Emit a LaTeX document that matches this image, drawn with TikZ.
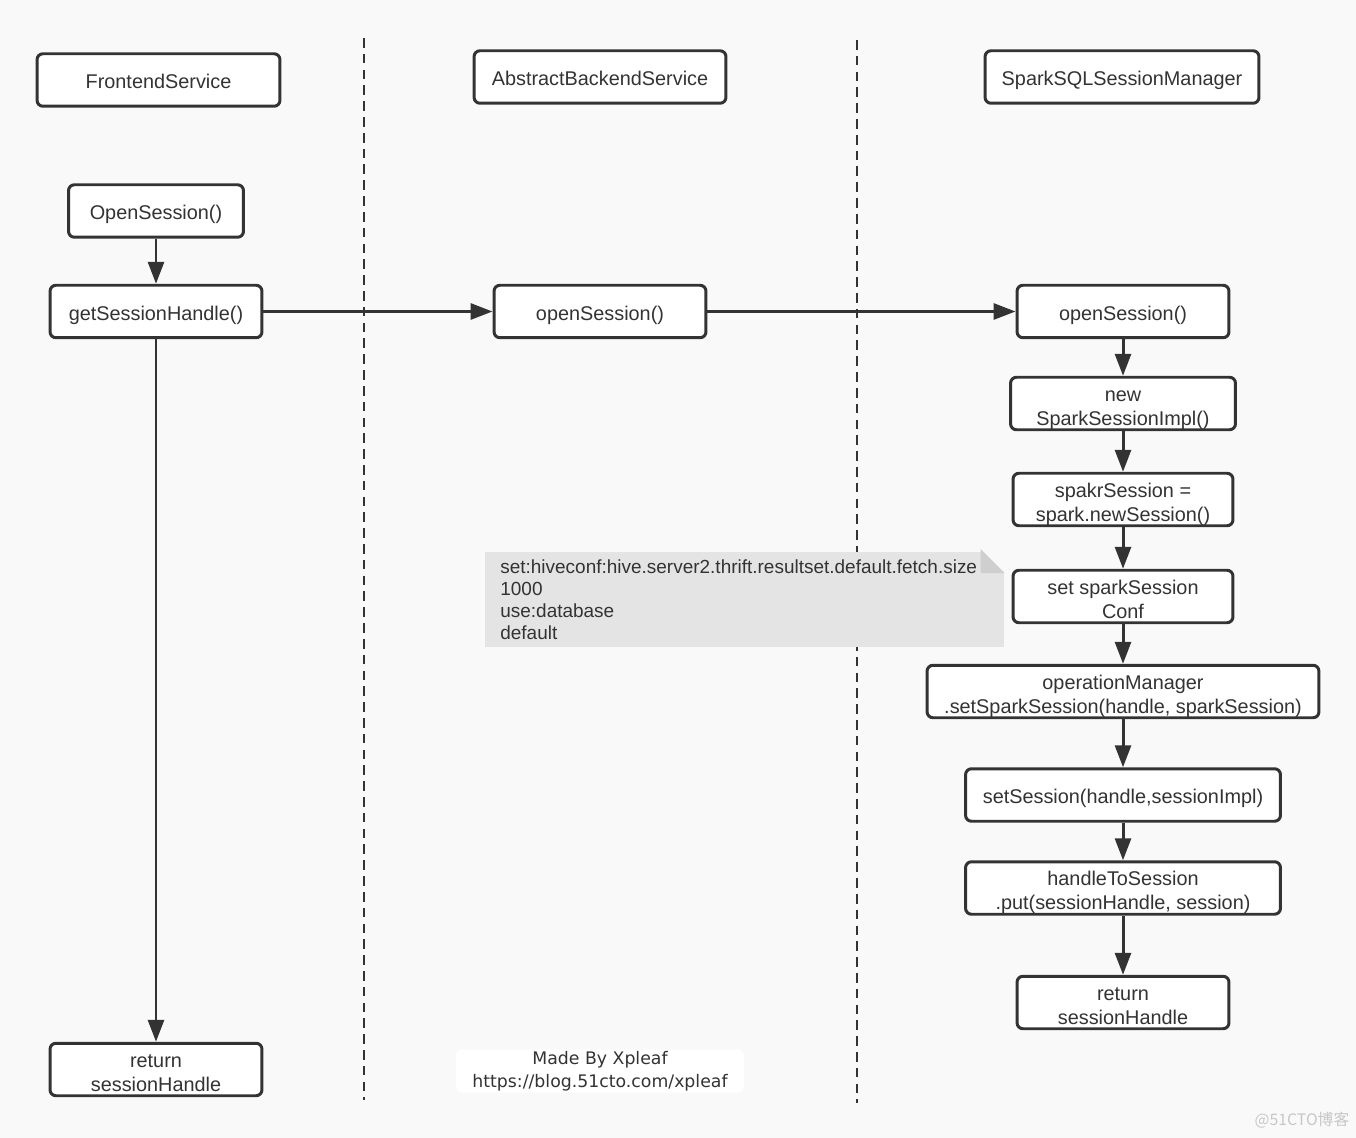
\documentclass[tikz,border=0pt]{standalone}
\usepackage{fontspec}
\setmainfont{Liberation Sans}
\newfontfamily\cjkfont{Noto Sans CJK SC}
\newfontfamily\handfont{DejaVu Sans}
\usetikzlibrary{arrows.meta,positioning,calc}
\definecolor{ink}{HTML}{333333}
\definecolor{paper}{HTML}{F9F9F9}
\definecolor{notegray}{HTML}{E4E4E4}
\definecolor{foldgray}{HTML}{CFCFCF}

\begin{document}
\begin{tikzpicture}[x=0.02cm, y=-0.02cm,
    box/.style={draw=ink, line width=1.7pt, rounded corners=1.2mm, fill=white, text=ink,
        align=center, minimum height=1.05cm, inner sep=0pt, text height=10pt, text depth=0pt,
        font=\fontsize{11.3}{13.6}\selectfont},
    twoline/.style={text height=24.5pt, text depth=0pt},
    flow/.style={draw=ink, line width=1.7pt, -{Triangle[length=4.4mm,width=3.2mm]}},
    lane/.style={draw=ink, line width=0.8pt, dash pattern=on 5.5pt off 3.5pt}]
    % Canvas
    \fill[paper] (0,0) rectangle (1356,1138);
    \useasboundingbox (0,0) rectangle (1356,1138);

    % Swim lanes
    \draw[lane] (364,38) -- (364,1100);
    \draw[lane] (857,40) -- (857,1103);

    % Lane headers
    \node[box, minimum width=4.86cm] (frontend) at (158.5,80) {FrontendService};
    \node[box, minimum width=5.04cm] (backend) at (600,77) {AbstractBackendService};
    \node[box, minimum width=5.48cm] (manager) at (1122,77) {SparkSQLSessionManager};

    % FrontendService
    \node[box, minimum width=3.5cm] (open) at (156,211) {OpenSession()};
    \node[box, minimum width=4.24cm] (gethandle) at (156,311.5) {getSessionHandle()};
    \node[box, twoline, minimum width=4.24cm] (retleft) at (156,1069.5) {return\\sessionHandle};

    % AbstractBackendService
    \node[box, minimum width=4.24cm] (openmid) at (600,311.5) {openSession()};

    % SparkSQLSessionManager
    \node[box, minimum width=4.24cm] (openright) at (1123,311.5) {openSession()};
    \node[box, twoline, minimum width=4.5cm] (newimpl) at (1123,403.5) {new\\SparkSessionImpl()};
    \node[box, twoline, minimum width=4.4cm] (newsession) at (1123,499.5) {spakrSession =\\spark.newSession()};
    \node[box, twoline, minimum width=4.4cm] (setconf) at (1123,596.5) {set sparkSession\\Conf};
    \node[box, twoline, minimum width=7.84cm] (setspark) at (1123,691.5) {operationManager\\.setSparkSession(handle, sparkSession)};
    \node[box, minimum width=6.3cm] (setsession) at (1123,795) {setSession(handle,sessionImpl)};
    \node[box, twoline, minimum width=6.3cm] (putsession) at (1123,888) {handleToSession\\.put(sessionHandle, session)};
    \node[box, twoline, minimum width=4.24cm] (retright) at (1123,1002.5) {return\\sessionHandle};

    % Calls
    \draw[flow] (open) -- (gethandle);
    \draw[flow] (gethandle) -- (retleft);
    \draw[flow] (gethandle) -- (openmid);
    \draw[flow] (openmid) -- (openright);
    \draw[flow] (openright) -- (newimpl);
    \draw[flow] (newimpl) -- (newsession);
    \draw[flow] (newsession) -- (setconf);
    \draw[flow] (setconf) -- (setspark);
    \draw[flow] (setspark) -- (setsession);
    \draw[flow] (setsession) -- (putsession);
    \draw[flow] (putsession) -- (retright);

    % Note with folded corner
    \node[anchor=north west, fill=notegray, text=ink, align=left, text width=9.78cm,
        minimum height=1.9cm, inner xsep=0.3cm, inner ysep=0.12cm,
        font=\fontsize{10.8}{12.6}\selectfont] (config) at (485,552)
        {set:hiveconf:hive.server2.thrift.resultset.default.fetch.size\\1000\\use:database\\default};
    \fill[paper] ($(config.north east)+(-24,-3)$) -- ($(config.north east)+(0,-3)$) -- ($(config.north east)+(0,21)$) -- cycle;
    \fill[foldgray] ($(config.north east)+(-24,-3)$) -- ($(config.north east)+(-24,21)$) -- ($(config.north east)+(0,21)$) -- cycle;

    % Credits
    \node[fill=white, rounded corners=1mm, minimum width=5.76cm, minimum height=0.86cm, inner sep=0pt,
        align=center, text=ink, font=\handfont\fontsize{9.85}{13}\selectfont] (credit) at (600,1071)
        {Made By Xpleaf\\https://blog.51cto.com/xpleaf};
    \node[text=black!22, font=\cjkfont\fontsize{9}{9}\selectfont] (mark) at (1302,1120) {@51CTO博客};
\end{tikzpicture}
\end{document}
